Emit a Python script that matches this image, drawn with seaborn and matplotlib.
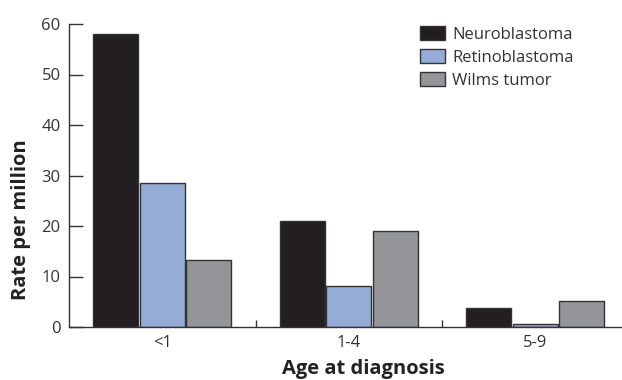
import pandas as pd
import matplotlib
matplotlib.use("Agg")
import matplotlib.pyplot as plt
import seaborn as sns
from matplotlib.ticker import FixedLocator

ages = ["<1", "1-4", "5-9"]
tumors = ["Neuroblastoma", "Retinoblastoma", "Wilms tumor"]
neuroblastoma = [58.0, 21.0, 3.8]
retinoblastoma = [28.5, 8.1, 0.5]
wilms = [13.2, 19.0, 5.1]
colors = ["#231f20", "#94acd6", "#939598"]

df = pd.DataFrame({
    "Age": ages * 3,
    "Tumor": [t for t in tumors for _ in ages],
    "Rate": neuroblastoma + retinoblastoma + wilms,
})

sns.set_style("white")
plt.rcParams["font.family"] = ["Open Sans", "DejaVu Sans"]

fig = plt.figure(figsize=(6.22, 3.8), dpi=100)
ax = fig.add_axes([69 / 622, 1 - 327 / 380, 1 - 69 / 622, (327 - 24) / 380])

sns.barplot(data=df, x="Age", y="Rate", hue="Tumor", order=ages, hue_order=tumors,
            palette=colors, width=0.748, gap=0.03, edgecolor="#333333",
            linewidth=1.0, saturation=1, ax=ax)

ax.set_xlim(-0.5, 2.465)
ax.set_ylim(0, 60)
ax.set_yticks([0, 10, 20, 30, 40, 50, 60])
ax.xaxis.set_minor_locator(FixedLocator([0.5, 1.5]))

sns.despine(ax=ax, top=True, right=True)
ax.spines["left"].set_bounds(0, 60)
for s in ["left", "bottom"]:
    ax.spines[s].set_color("#333333")
    ax.spines[s].set_linewidth(1.0)

ax.tick_params(axis="y", direction="in", length=10, width=1, color="#333333",
               labelsize=12, labelcolor="#333333", pad=6, left=True)
ax.tick_params(axis="x", which="major", length=0, labelsize=12,
               labelcolor="#333333", pad=6)
ax.tick_params(axis="x", which="minor", direction="in", length=5, width=1,
               color="#333333", bottom=True)

ax.set_xlabel("Age at diagnosis", fontsize=14.5, fontweight="bold", color="#222222")
ax.set_ylabel("Rate per million", fontsize=14.5, fontweight="bold", color="#222222")
ax.xaxis.set_label_coords((363 - 69) / (622 - 69), -(369 - 327) / (327 - 24))
ax.yaxis.set_label_coords(-(69 - 21) / (622 - 69), (327 - 220) / (327 - 24))
ax.xaxis.label.set_va("center")
ax.yaxis.label.set_va("center")

handles, labels = ax.get_legend_handles_labels()
ax.legend(handles, labels, loc="upper left", frameon=False, fontsize=12,
          bbox_to_anchor=(420 / 622, 1 - 26 / 380), bbox_transform=fig.transFigure,
          borderpad=0, borderaxespad=0, handlelength=1.5, handleheight=0.96,
          handletextpad=0.45, labelspacing=0.35)
for t in ax.get_legend().get_texts():
    t.set_color("#333333")

fig.savefig("out.png", dpi=100)
